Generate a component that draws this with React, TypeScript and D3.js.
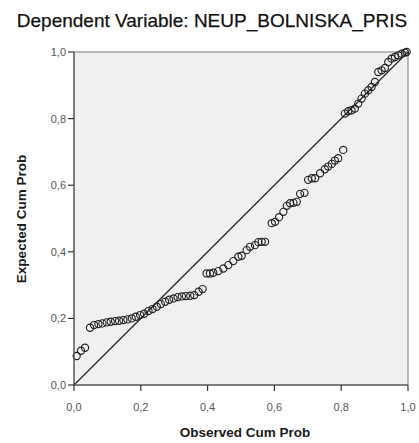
import React from "react";
import * as d3 from "d3";

const TITLE = "Dependent Variable: NEUP_BOLNISKA_PRIS";
const X_TITLE = "Observed Cum Prob";
const Y_TITLE = "Expected Cum Prob";
const TICKS = [0, 0.2, 0.4, 0.6, 0.8, 1.0];
const TICK_LABELS = ["0,0", "0,2", "0,4", "0,6", "0,8", "1,0"];

const observed = [
  0.008, 0.021, 0.033,
  0.048, 0.060, 0.073, 0.085, 0.098, 0.110, 0.123, 0.135, 0.148, 0.160, 0.173, 0.185, 0.198, 0.210,
  0.223, 0.235, 0.248, 0.260, 0.273, 0.285, 0.298, 0.310, 0.323, 0.335, 0.348, 0.360, 0.373, 0.385,
  0.397, 0.407, 0.417, 0.432, 0.447, 0.462, 0.477, 0.492, 0.502, 0.517, 0.527, 0.542, 0.552, 0.562, 0.572,
  0.592, 0.602, 0.614, 0.627, 0.637, 0.647, 0.657, 0.667, 0.677, 0.690,
  0.701, 0.712, 0.722, 0.737, 0.751, 0.761, 0.772, 0.781, 0.791, 0.806,
  0.811, 0.821, 0.831, 0.841, 0.851, 0.861, 0.871, 0.881, 0.891, 0.901,
  0.911, 0.921, 0.931, 0.941, 0.951, 0.961, 0.971, 0.981, 0.991, 0.996,
];

const expected = [
  0.087, 0.103, 0.112,
  0.172, 0.180, 0.183, 0.185, 0.188, 0.190, 0.192, 0.193, 0.195, 0.197, 0.200, 0.205, 0.210, 0.214,
  0.222, 0.228, 0.235, 0.243, 0.250, 0.256, 0.260, 0.264, 0.266, 0.267, 0.268, 0.270, 0.280, 0.288,
  0.335, 0.335, 0.337, 0.342, 0.350, 0.360, 0.372, 0.385, 0.388, 0.405, 0.415, 0.420, 0.429, 0.430, 0.430,
  0.486, 0.490, 0.504, 0.520, 0.538, 0.546, 0.547, 0.550, 0.574, 0.577,
  0.616, 0.621, 0.621, 0.636, 0.648, 0.656, 0.664, 0.674, 0.681, 0.706,
  0.815, 0.822, 0.825, 0.830, 0.845, 0.860, 0.875, 0.885, 0.895, 0.910,
  0.940, 0.945, 0.952, 0.970, 0.980, 0.985, 0.990, 0.995, 0.998, 1.0,
];

const W = 419;
const H = 443;
const L = 74, R = 408, T = 52, B = 385;
const FONT = "'Liberation Sans', Arial, sans-serif";

export default function App() {
  const x = d3.scaleLinear().domain([0, 1]).range([L, R]);
  const y = d3.scaleLinear().domain([0, 1]).range([B, T]);
  const pts = observed.map((o, i) => [o, expected[i]] as [number, number]);
  const diag = d3.line<[number, number]>().x((d) => x(d[0])).y((d) => y(d[1]));

  return (
    <svg width={W} height={H} style={{ position: "absolute", left: 0, top: 0, background: "#fff" }}>
      <text x={212} y={27} textAnchor="middle" fontFamily={FONT} fontSize={19} fill="#111"
        stroke="#111" strokeWidth={0.25}>
        {TITLE}
      </text>
      <rect x={L} y={T} width={R - L} height={B - T} fill="#f0f0f0" />
      <line x1={L} y1={T} x2={R} y2={T} stroke="#7a7a7a" strokeWidth={1} />
      <line x1={R} y1={T} x2={R} y2={B} stroke="#7a7a7a" strokeWidth={1} />
      <path d={diag([[0, 0], [1, 1]]) || ""} stroke="#222" strokeWidth={1.2} fill="none" />
      {pts.map((p, i) => (
        <circle key={i} cx={x(p[0])} cy={y(p[1])} r={3.6} fill="none" stroke="#222" strokeWidth={1.15} />
      ))}
      <line x1={L} y1={T} x2={L} y2={B + 0.5} stroke="#555" strokeWidth={1.5} />
      <line x1={L} y1={B} x2={R} y2={B} stroke="#555" strokeWidth={1.5} />
      {TICKS.map((t, i) => (
        <g key={"y" + i}>
          <line x1={L - 6} x2={L} y1={y(t)} y2={y(t)} stroke="#333" strokeWidth={1.2} />
          <text x={L - 8} y={y(t) + 4} textAnchor="end" fontFamily={FONT} fontSize={11} fill="#555">
            {TICK_LABELS[i]}
          </text>
        </g>
      ))}
      {TICKS.map((t, i) => (
        <g key={"x" + i}>
          <line x1={x(t)} x2={x(t)} y1={B} y2={B + 6} stroke="#333" strokeWidth={1.2} />
          <text x={x(t)} y={B + 26} textAnchor="middle" fontFamily={FONT} fontSize={11} fill="#555">
            {TICK_LABELS[i]}
          </text>
        </g>
      ))}
      <text x={245} y={437} textAnchor="middle" fontFamily={FONT} fontSize={13.5} fontWeight="bold" fill="#1a1a1a">
        {X_TITLE}
      </text>
      <text
        transform={`translate(26,219) rotate(-90)`}
        textAnchor="middle"
        fontFamily={FONT}
        fontSize={13.5}
        fontWeight="bold"
        fill="#1a1a1a"
      >
        {Y_TITLE}
      </text>
    </svg>
  );
}
